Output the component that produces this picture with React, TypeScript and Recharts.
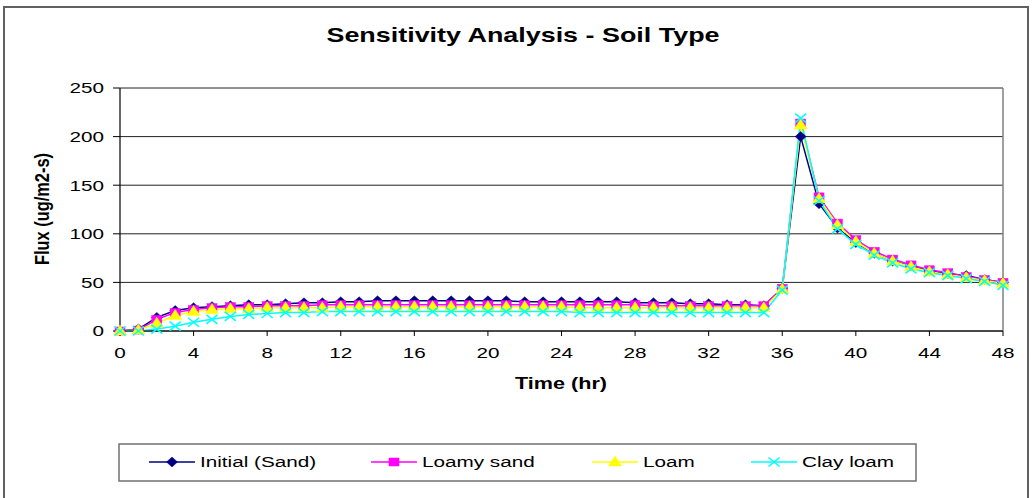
import React from 'react';
import { LineChart, Line, XAxis, YAxis, CartesianGrid, ReferenceLine } from 'recharts';

const hours = [0, 1, 2, 3, 4, 5, 6, 7, 8, 9, 10, 11, 12, 13, 14, 15, 16, 17, 18, 19, 20, 21, 22, 23, 24, 25, 26, 27, 28, 29, 30, 31, 32, 33, 34, 35, 36, 37, 38, 39, 40, 41, 42, 43, 44, 45, 46, 47, 48];
const sand = [0, 2, 14, 21, 24, 25, 26, 27, 27, 28, 29, 29, 30, 30, 31, 31, 31, 31, 31, 31, 31, 31, 30, 30, 30, 30, 30, 30, 29, 29, 29, 28, 28, 27, 27, 26, 44, 200, 131, 106, 91, 80, 72, 67, 62, 59, 57, 53, 50];
const loamySand = [0, 1, 12, 19, 22, 24, 25, 25, 26, 26, 26, 27, 27, 27, 27, 27, 27, 27, 27, 27, 27, 27, 27, 27, 27, 27, 27, 27, 27, 26, 26, 26, 26, 26, 26, 26, 44, 214, 138, 111, 94, 82, 74, 68, 63, 60, 56, 53, 50];
const loam = [0, 1, 8, 16, 20, 22, 23, 23, 24, 24, 24, 24, 25, 25, 25, 25, 25, 25, 25, 25, 25, 25, 25, 25, 25, 24, 24, 24, 24, 24, 24, 24, 24, 24, 24, 24, 43, 212, 136, 109, 92, 80, 72, 66, 61, 58, 55, 52, 49];
const clayLoam = [0, 0, 2, 5, 9, 12, 15, 17, 18, 19, 19, 20, 20, 20, 20, 20, 20, 20, 20, 20, 20, 20, 20, 20, 20, 19, 19, 19, 19, 19, 19, 19, 19, 19, 19, 19, 42, 219, 134, 105, 89, 78, 70, 64, 60, 57, 54, 51, 47];

const xTicks = [0, 4, 8, 12, 16, 20, 24, 28, 32, 36, 40, 44, 48];
const yTicks = [0, 50, 100, 150, 200, 250];
const seriesNames = ['Initial (Sand)', 'Loamy sand', 'Loam', 'Clay loam'];
const titleText = 'Sensitivity Analysis - Soil Type';
const xTitle = 'Time (hr)';
const yTitle = 'Flux (ug/m2-s)';

const data = hours.map((h, i) => ({
  hour: h,
  sand: sand[i],
  loamySand: loamySand[i],
  loam: loam[i],
  clayLoam: clayLoam[i],
}));

const SX = 1.38;
const FONT = '"Liberation Sans", Arial, Helvetica, sans-serif';
const NAVY = '#000080';
const MAGENTA = '#FF00FF';
const YELLOW = '#FFFF00';
const CYAN = '#00FFFF';

const diamond = (cx: number, cy: number, key?: any) => (
  <path key={key} d={`M${cx},${cy - 5} L${cx + 5.5},${cy} L${cx},${cy + 5} L${cx - 5.5},${cy} Z`} fill={NAVY} stroke={NAVY} strokeWidth={0.5} />
);
const square = (cx: number, cy: number, key?: any) => (
  <rect key={key} x={cx - 5} y={cy - 4} width={10} height={8} fill={MAGENTA} stroke={MAGENTA} strokeWidth={0.5} />
);
const triangle = (cx: number, cy: number, key?: any) => (
  <path key={key} d={`M${cx},${cy - 6} L${cx + 6.5},${cy + 4} L${cx - 6.5},${cy + 4} Z`} fill={YELLOW} stroke={YELLOW} strokeWidth={0.5} />
);
const cross = (cx: number, cy: number, key?: any) => (
  <g key={key}>
    <line x1={cx - 5.5} y1={cy - 4.5} x2={cx + 5.5} y2={cy + 4.5} stroke={CYAN} strokeWidth={1.6} />
    <line x1={cx - 5.5} y1={cy + 4.5} x2={cx + 5.5} y2={cy - 4.5} stroke={CYAN} strokeWidth={1.6} />
  </g>
);

const mkDot = (fn: (cx: number, cy: number, key?: any) => any, name: string) => (props: any) => {
  const { cx, cy, index } = props;
  if (cx == null || cy == null) return <g key={`${name}-${index}`} />;
  return fn(cx, cy, `${name}-${index}`);
};

const XTick = (props: any) => {
  const { x, y, payload } = props;
  return (
    <text
      transform={`translate(${x},${y + 11}) scale(${SX},1)`}
      textAnchor="middle"
      dy="0.71em"
      fontSize={15}
      fontFamily={FONT}
      fill="#000"
    >
      {payload.value}
    </text>
  );
};

const YTick = (props: any) => {
  const { x, y, payload } = props;
  return (
    <text
      transform={`translate(${x - 9},${y}) scale(${SX},1)`}
      textAnchor="end"
      dy="0.355em"
      fontSize={15}
      fontFamily={FONT}
      fill="#000"
    >
      {payload.value}
    </text>
  );
};

const legendItems = [
  { name: seriesNames[0], x: 149, marker: diamond, color: NAVY },
  { name: seriesNames[1], x: 371, marker: square, color: MAGENTA },
  { name: seriesNames[2], x: 592, marker: triangle, color: YELLOW },
  { name: seriesNames[3], x: 751, marker: cross, color: CYAN },
];

export default function App() {
  return (
    <div style={{ position: 'absolute', left: 0, top: 0, width: 1033, height: 498, background: '#fff', overflow: 'hidden' }}>
      <div
        style={{
          position: 'absolute',
          left: 3,
          top: 6,
          width: 1026,
          height: 520,
          border: '2px solid #606060',
          boxSizing: 'border-box',
        }}
      />
      <div style={{ position: 'absolute', left: 0, top: 0 }}>
        <LineChart width={1033} height={498} data={data} margin={{ top: 88, right: 30, bottom: 137, left: 60 }}>
          <CartesianGrid vertical={false} stroke="#222" strokeWidth={1} />
          <ReferenceLine x={48} stroke="#808080" strokeWidth={1.5} />
          <XAxis
            dataKey="hour"
            type="number"
            domain={[0, 48]}
            ticks={xTicks}
            interval={0}
            height={30}
            tickSize={5}
            tickMargin={0}
            stroke="#000"
            tick={<XTick />}
            tickLine={{ stroke: '#000' }}
            axisLine={{ stroke: '#000', strokeWidth: 1.2 }}
          />
          <YAxis
            type="number"
            domain={[0, 250]}
            ticks={yTicks}
            interval={0}
            width={60}
            tickSize={7}
            tickMargin={0}
            stroke="#000"
            tick={<YTick />}
            tickLine={{ stroke: '#000' }}
            axisLine={{ stroke: '#000', strokeWidth: 1.2 }}
          />
          <Line dataKey="sand" name={seriesNames[0]} stroke={NAVY} strokeWidth={1.5} isAnimationActive={false} dot={mkDot(diamond, 'sand')} activeDot={false} />
          <Line dataKey="loamySand" name={seriesNames[1]} stroke={MAGENTA} strokeWidth={1.5} isAnimationActive={false} dot={mkDot(square, 'loamy')} activeDot={false} />
          <Line dataKey="loam" name={seriesNames[2]} stroke={YELLOW} strokeWidth={1.5} isAnimationActive={false} dot={mkDot(triangle, 'loam')} activeDot={false} />
          <Line dataKey="clayLoam" name={seriesNames[3]} stroke={CYAN} strokeWidth={1.5} isAnimationActive={false} dot={mkDot(cross, 'clay')} activeDot={false} />
        </LineChart>
      </div>
      <svg width={1033} height={498} style={{ position: 'absolute', left: 0, top: 0, pointerEvents: 'none' }}>
        <text
          transform={`translate(523,42) scale(${SX},1)`}
          textAnchor="middle"
          fontSize={19.5}
          fontWeight="bold"
          fontFamily={FONT}
          fill="#000"
        >
          {titleText}
        </text>
        <text
          transform={`translate(561,389) scale(1.35,1)`}
          textAnchor="middle"
          fontSize={16}
          fontWeight="bold"
          fontFamily={FONT}
          fill="#000"
        >
          {xTitle}
        </text>
        <text
          transform={`translate(42,209) scale(${SX},1) rotate(-90)`}
          textAnchor="middle"
          dy="0.355em"
          fontSize={14}
          fontWeight="bold"
          fontFamily={FONT}
          fill="#000"
          textLength={112}
          lengthAdjust="spacingAndGlyphs"
        >
          {yTitle}
        </text>
        <rect x={119} y={444} width={797} height={37} fill="#fff" stroke="#707070" strokeWidth={1.5} />
        {legendItems.map((it, i) => (
          <g key={i}>
            <line x1={it.x} y1={462} x2={it.x + 46} y2={462} stroke={it.color} strokeWidth={1.5} />
            {it.marker(it.x + 23, 462)}
            <text
              transform={`translate(${it.x + 51},467) scale(${SX},1)`}
              fontSize={15}
              fontFamily={FONT}
              fill="#000"
            >
              {it.name}
            </text>
          </g>
        ))}
      </svg>
    </div>
  );
}
